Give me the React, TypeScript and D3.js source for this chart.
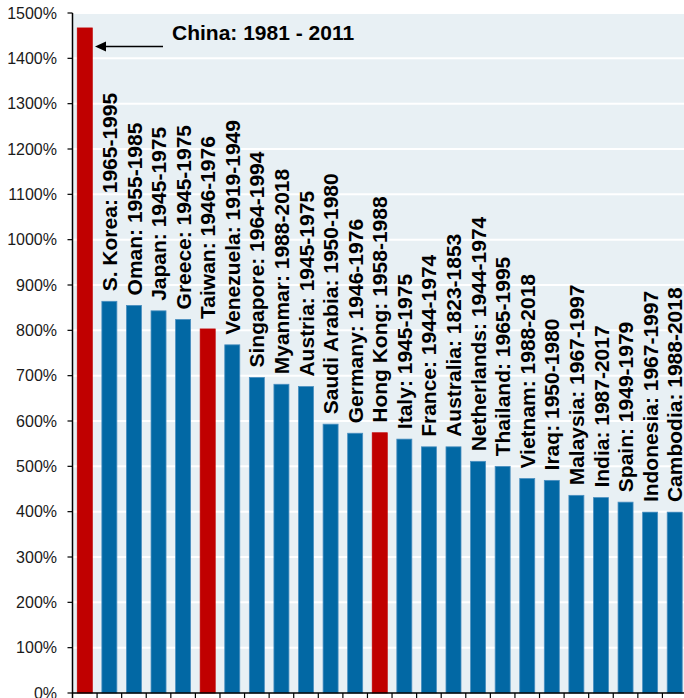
import React from "react";
import * as d3 from "d3";

// Peak cumulative growth episodes by economy
const countries = [
  "China", "S. Korea", "Oman", "Japan", "Greece", "Taiwan", "Venezuela", "Singapore",
  "Myanmar", "Austria", "Saudi Arabia", "Germany", "Hong Kong", "Italy", "France",
  "Australia", "Netherlands", "Thailand", "Vietnam", "Iraq", "Malaysia", "India",
  "Spain", "Indonesia", "Cambodia",
];
const periods = [
  "1981 - 2011", "1965-1995", "1955-1985", "1945-1975", "1945-1975", "1946-1976",
  "1919-1949", "1964-1994", "1988-2018", "1945-1975", "1950-1980", "1946-1976",
  "1958-1988", "1945-1975", "1944-1974", "1823-1853", "1944-1974", "1965-1995",
  "1988-2018", "1950-1980", "1967-1997", "1987-2017", "1949-1979", "1967-1997",
  "1988-2018",
];
const growth = [
  1467, 864, 855, 843, 824, 803, 768, 696, 681, 676, 593, 573, 574, 560, 543, 543,
  511, 500, 473, 469, 436, 431, 421, 399, 399,
];
const highlighted = ["China", "Taiwan", "Hong Kong"];
const yTicks = d3.range(0, 1501, 100);

const W = 684;
const H = 698;
const plot = { left: 72.5, right: 687, top: 13, bottom: 693 };

export default function App() {
  const x = d3
    .scaleBand<string>()
    .domain(countries)
    .range([plot.left, plot.right])
    .paddingInner(0.39)
    .paddingOuter(0.195);
  const y = d3.scaleLinear().domain([0, 1500]).range([plot.bottom, plot.top]);
  const step = x.step();
  const font = "'Liberation Sans', Arial, sans-serif";

  return (
    <svg
      width={W}
      height={H}
      style={{ position: "absolute", left: 0, top: 0, background: "#fff" }}
    >
      <rect
        x={plot.left}
        y={plot.top}
        width={plot.right - plot.left}
        height={plot.bottom - plot.top}
        fill="#e8f0f4"
      />
      {yTicks.slice(1).map((t) => (
        <line
          key={`g${t}`}
          x1={plot.left}
          x2={plot.right}
          y1={y(t)}
          y2={y(t)}
          stroke="#ffffff"
          strokeWidth={2}
        />
      ))}
      {countries.map((c, i) => {
        const v = growth[i];
        const red = highlighted.includes(c);
        return (
          <rect
            key={c}
            x={x(c)}
            y={y(v)}
            width={x.bandwidth()}
            height={y(0) - y(v)}
            fill={red ? "#c00000" : "#0268a4"}
            stroke={red ? "#c00000" : "#4a8fc0"}
            strokeWidth={0.8}
          />
        );
      })}
      {/* rotated category labels above each bar (China is annotated separately) */}
      {countries.map((c, i) => {
        if (i === 0) return null;
        const cx = (x(c) as number) + x.bandwidth() / 2;
        const ty = y(growth[i]) - 10;
        return (
          <text
            key={`l${c}`}
            transform={`translate(${cx},${ty}) rotate(-90)`}
            dy="0.36em"
            fontFamily={font}
            fontWeight="bold"
            fontSize={21}
            fill="#000"
          >
            {`${c}: ${periods[i]}`}
          </text>
        );
      })}
      {/* China annotation with arrow */}
      <text
        x={172}
        y={40}
        fontFamily={font}
        fontWeight="bold"
        fontSize={21}
        fill="#000"
      >
        {`${countries[0]}: ${periods[0]}`}
      </text>
      <line x1={163} x2={104} y1={46.5} y2={46.5} stroke="#000" strokeWidth={1.5} />
      <polygon points="95,46.5 106,41.5 106,51.5" fill="#000" />
      {/* y axis */}
      <line
        x1={plot.left}
        x2={plot.left}
        y1={plot.top}
        y2={plot.bottom + 5}
        stroke="#000"
        strokeWidth={1.5}
      />
      {yTicks.map((t) => (
        <g key={`t${t}`}>
          <line
            x1={plot.left - 5}
            x2={plot.left}
            y1={y(t)}
            y2={y(t)}
            stroke="#000"
            strokeWidth={1.2}
          />
          <text
            x={57}
            y={y(t)}
            dy="0.36em"
            textAnchor="end"
            fontFamily={font}
            fontSize={16}
            fill="#1a1a1a"
          >
            {`${t}%`}
          </text>
        </g>
      ))}
      {/* x axis */}
      <line
        x1={plot.left}
        x2={plot.right}
        y1={plot.bottom}
        y2={plot.bottom}
        stroke="#000"
        strokeWidth={1.5}
      />
      {countries.map((c, i) => (
        <line
          key={`xt${c}`}
          x1={plot.left + (i + 1) * step}
          x2={plot.left + (i + 1) * step}
          y1={plot.bottom}
          y2={plot.bottom + 5}
          stroke="#000"
          strokeWidth={1.2}
        />
      ))}
    </svg>
  );
}
